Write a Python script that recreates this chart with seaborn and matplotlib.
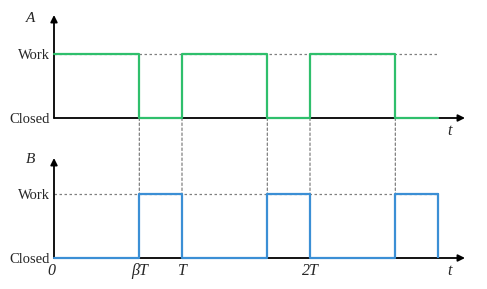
import numpy as np
import pandas as pd
import matplotlib
matplotlib.use("Agg")
import matplotlib.pyplot as plt
import seaborn as sns
from matplotlib.patches import ConnectionPatch

# ---- data (time in units of T, beta = 2/3) ----
beta = 2 / 3
t_edges = [0, beta, 1, 1 + beta, 2, 2 + beta, 3]
state_A = [1, 0, 1, 0, 1, 0, 0]   # step-post values
state_B = [0, 1, 0, 1, 0, 1, 1]
level_labels = ["Closed", "Work"]
tick_pos = [0, beta, 1, 2]
tick_labels = ["0", "βT", "T", "2T"]
connector_times = [beta, 1, 1 + beta, 2, 2 + beta]

green = "#2fbf6c"
blue = "#3b8fd5"
gray = "#808080"

sns.set_theme(style="white")
plt.rcParams["font.family"] = ["Liberation Serif", "DejaVu Serif"]
plt.rcParams["mathtext.fontset"] = "stix"

W, H = 487, 289
fig = plt.figure(figsize=(W / 100, H / 100), dpi=100)
x0, xtip = 54, 465
T_px = 128
xmax = (xtip - x0) / T_px

def make_ax(y_closed, y_top):
    unit = 64
    ax = fig.add_axes([x0 / W, (H - y_closed) / H, (xtip - x0) / W, (y_closed - y_top) / H])
    ax.set_xlim(0, xmax)
    ax.set_ylim(0, (y_closed - y_top) / unit)
    for s in ax.spines.values():
        s.set_visible(False)
    ax.set_xticks([])
    ax.set_yticks([0, 1])
    ax.set_yticklabels(level_labels, fontsize=10.5)
    ax.tick_params(axis="y", length=0, pad=3)
    ax.patch.set_alpha(0)
    # axes with arrows
    ax.annotate("", xy=(1, 0), xytext=(0, 0), xycoords="axes fraction",
                arrowprops=dict(arrowstyle="-|>", color="black", lw=1.3,
                                mutation_scale=10, shrinkA=0, shrinkB=0))
    ax.annotate("", xy=(0, 1), xytext=(0, 0), xycoords="axes fraction",
                arrowprops=dict(arrowstyle="-|>", color="black", lw=1.3,
                                mutation_scale=10, shrinkA=0, shrinkB=0))
    return ax

axA = make_ax(118, 15)
axB = make_ax(258, 158)

# dotted work reference lines
for ax in (axA, axB):
    ax.plot([0, 3], [1, 1], ls=(0, (2, 2)), color=gray, lw=0.9, zorder=1)

dfA = pd.DataFrame({"t": t_edges, "s": state_A})
dfB = pd.DataFrame({"t": t_edges, "s": state_B})
sns.lineplot(data=dfA, x="t", y="s", ax=axA, color=green, lw=1.6,
             drawstyle="steps-post", estimator=None, clip_on=False, zorder=3)
sns.lineplot(data=dfB, x="t", y="s", ax=axB, color=blue, lw=1.6,
             drawstyle="steps-post", estimator=None, clip_on=False, zorder=3)
# closing the last pulse of B
axB.plot([3, 3], [0, 1], color=blue, lw=1.6, zorder=3)
for ax in (axA, axB):
    ax.set_xlabel("")
    ax.set_ylabel("")
    ax.set_xlim(0, xmax)

# connectors
for tc in connector_times:
    con = ConnectionPatch(xyA=(tc, 0), coordsA=axA.transData,
                          xyB=(tc, 1), coordsB=axB.transData,
                          ls=(0, (2, 2)), color=gray, lw=0.9, zorder=0)
    fig.add_artist(con)

# labels
axA.text(-0.058, 0.97, "A", transform=axA.transAxes, fontsize=11, style="italic",
         ha="center", va="center")
axB.text(-0.058, 0.99, "B", transform=axB.transAxes, fontsize=11, style="italic",
         ha="center", va="center")
axA.text(3.09, -0.2, "t", fontsize=11.5, style="italic", ha="center", va="center")
axB.text(3.09, -0.2, "t", fontsize=11.5, style="italic", ha="center", va="center")
for p, lab in zip(tick_pos, tick_labels):
    axB.text(p - (0.02 if p == 0 else 0), -0.2, lab, style="italic",
             fontsize=11.5, ha="center", va="center")

fig.savefig("out.png", dpi=100)
